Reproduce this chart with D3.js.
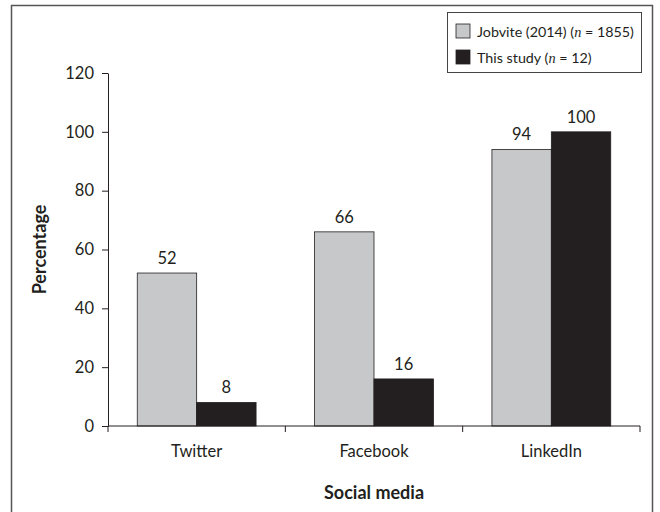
<!DOCTYPE html>
<html>
<head>
<meta charset="utf-8">
<script src="https://cdn.jsdelivr.net/npm/d3@7"></script>
<style>
  body { margin: 0; background: #fff; }
  svg text { font-family: Lato, "Open Sans", sans-serif; fill: #231f20; }
</style>
</head>
<body>
<div id="chart"></div>
<script>
const categories = ["Twitter", "Facebook", "LinkedIn"];
const seriesNames = ["Jobvite", "This study"];
const jobvite = [52, 66, 94];
const thisStudy = [8, 16, 100];
const yTicks = [0, 20, 40, 60, 80, 100, 120];
const colors = ["#c7c8ca", "#231f20"];

const width = 660, height = 512;

const svg = d3.select("#chart").append("svg")
  .attr("width", width)
  .attr("height", height);

// outer frame
svg.append("rect")
  .attr("x", 11.5).attr("y", 5.5)
  .attr("width", 641).attr("height", 520)
  .attr("fill", "none")
  .attr("stroke", "#555")
  .attr("stroke-width", 1.5);

const x0 = d3.scaleBand()
  .domain(categories)
  .range([108, 640])
  .paddingInner(0.33)
  .paddingOuter(0.165);

const x1 = d3.scaleBand()
  .domain(seriesNames)
  .range([0, x0.bandwidth()]);

const y = d3.scaleLinear()
  .domain([0, 120])
  .range([426, 73]);

const rows = categories.map((c, i) => ({cat: c, vals: [jobvite[i], thisStudy[i]]}));

const groups = svg.append("g")
  .selectAll("g")
  .data(rows)
  .join("g")
    .attr("transform", d => `translate(${x0(d.cat)},0)`);

groups.selectAll("rect")
  .data(d => d.vals.map((v, j) => ({name: seriesNames[j], v, j})))
  .join("rect")
    .attr("x", d => x1(d.name))
    .attr("y", d => y(d.v))
    .attr("width", x1.bandwidth())
    .attr("height", d => y(0) - y(d.v))
    .attr("fill", d => colors[d.j])
    .attr("stroke", "#231f20")
    .attr("stroke-width", 0.8);

groups.selectAll("text.val")
  .data(d => d.vals.map((v, j) => ({name: seriesNames[j], v, j})))
  .join("text")
    .attr("class", "val")
    .attr("x", d => x1(d.name) + x1.bandwidth() / 2)
    .attr("y", d => y(d.v) - 9)
    .attr("text-anchor", "middle")
    .attr("font-size", 16.5)
    .text(d => d.v);

// y axis
const yAxis = svg.append("g")
  .attr("transform", "translate(108,0)")
  .call(d3.axisLeft(y).tickValues(yTicks).tickSize(6).tickPadding(8).tickSizeOuter(0));
yAxis.select(".domain").attr("stroke", "#231f20");
yAxis.selectAll(".tick line").attr("stroke", "#231f20");
yAxis.selectAll("text").attr("font-size", 16.5).style("font-family", "Lato, sans-serif").attr("fill", "#231f20");

// x axis
const xAxisG = svg.append("g");
xAxisG.append("line")
  .attr("x1", 108).attr("x2", 640)
  .attr("y1", y(0)).attr("y2", y(0))
  .attr("stroke", "#231f20");
const edges = categories.map(c => x0(c) - x0.step() * x0.paddingInner() / 2)
  .concat([x0(categories[categories.length - 1]) + x0.bandwidth() + x0.step() * x0.paddingInner() / 2]);
xAxisG.selectAll("line.tk")
  .data(edges)
  .join("line")
    .attr("class", "tk")
    .attr("x1", d => d).attr("x2", d => d)
    .attr("y1", y(0)).attr("y2", y(0) + 6)
    .attr("stroke", "#231f20");
xAxisG.selectAll("text")
  .data(categories)
  .join("text")
    .attr("x", d => x0(d) + x0.bandwidth() / 2)
    .attr("y", 457)
    .attr("text-anchor", "middle")
    .attr("font-size", 16.5)
    .text(d => d);

// axis titles
svg.append("text")
  .attr("transform", `translate(46,${(y(0) + y(120)) / 2}) rotate(-90)`)
  .attr("text-anchor", "middle")
  .attr("font-size", 18)
  .attr("font-weight", "bold")
  .text("Percentage");

svg.append("text")
  .attr("x", 374)
  .attr("y", 499)
  .attr("text-anchor", "middle")
  .attr("font-size", 18)
  .attr("font-weight", "bold")
  .text("Social media");

// legend
const legend = svg.append("g").attr("transform", "translate(447,12)");
legend.append("rect")
  .attr("x", 0.5).attr("y", 0.5)
  .attr("width", 194).attr("height", 60)
  .attr("fill", "#fff")
  .attr("stroke", "#444");

const legendItems = [
  {label: "Jobvite (2014) (", n: "1855", color: colors[0]},
  {label: "This study (", n: "12", color: colors[1]}
];
const li = legend.selectAll("g")
  .data(legendItems)
  .join("g")
    .attr("transform", (d, i) => `translate(9,${12 + i * 26})`);
li.append("rect")
  .attr("width", 14).attr("height", 14)
  .attr("fill", d => d.color)
  .attr("stroke", "#231f20")
  .attr("stroke-width", 0.8);
const lt = li.append("text")
  .attr("x", 21).attr("y", 12.5)
  .attr("font-size", 14.3);
lt.append("tspan").text(d => d.label);
lt.append("tspan").attr("font-style", "italic").style("font-family", "'Liberation Serif', serif").text("n");
lt.append("tspan").text(d => ` = ${d.n})`);
</script>
</body>
</html>
